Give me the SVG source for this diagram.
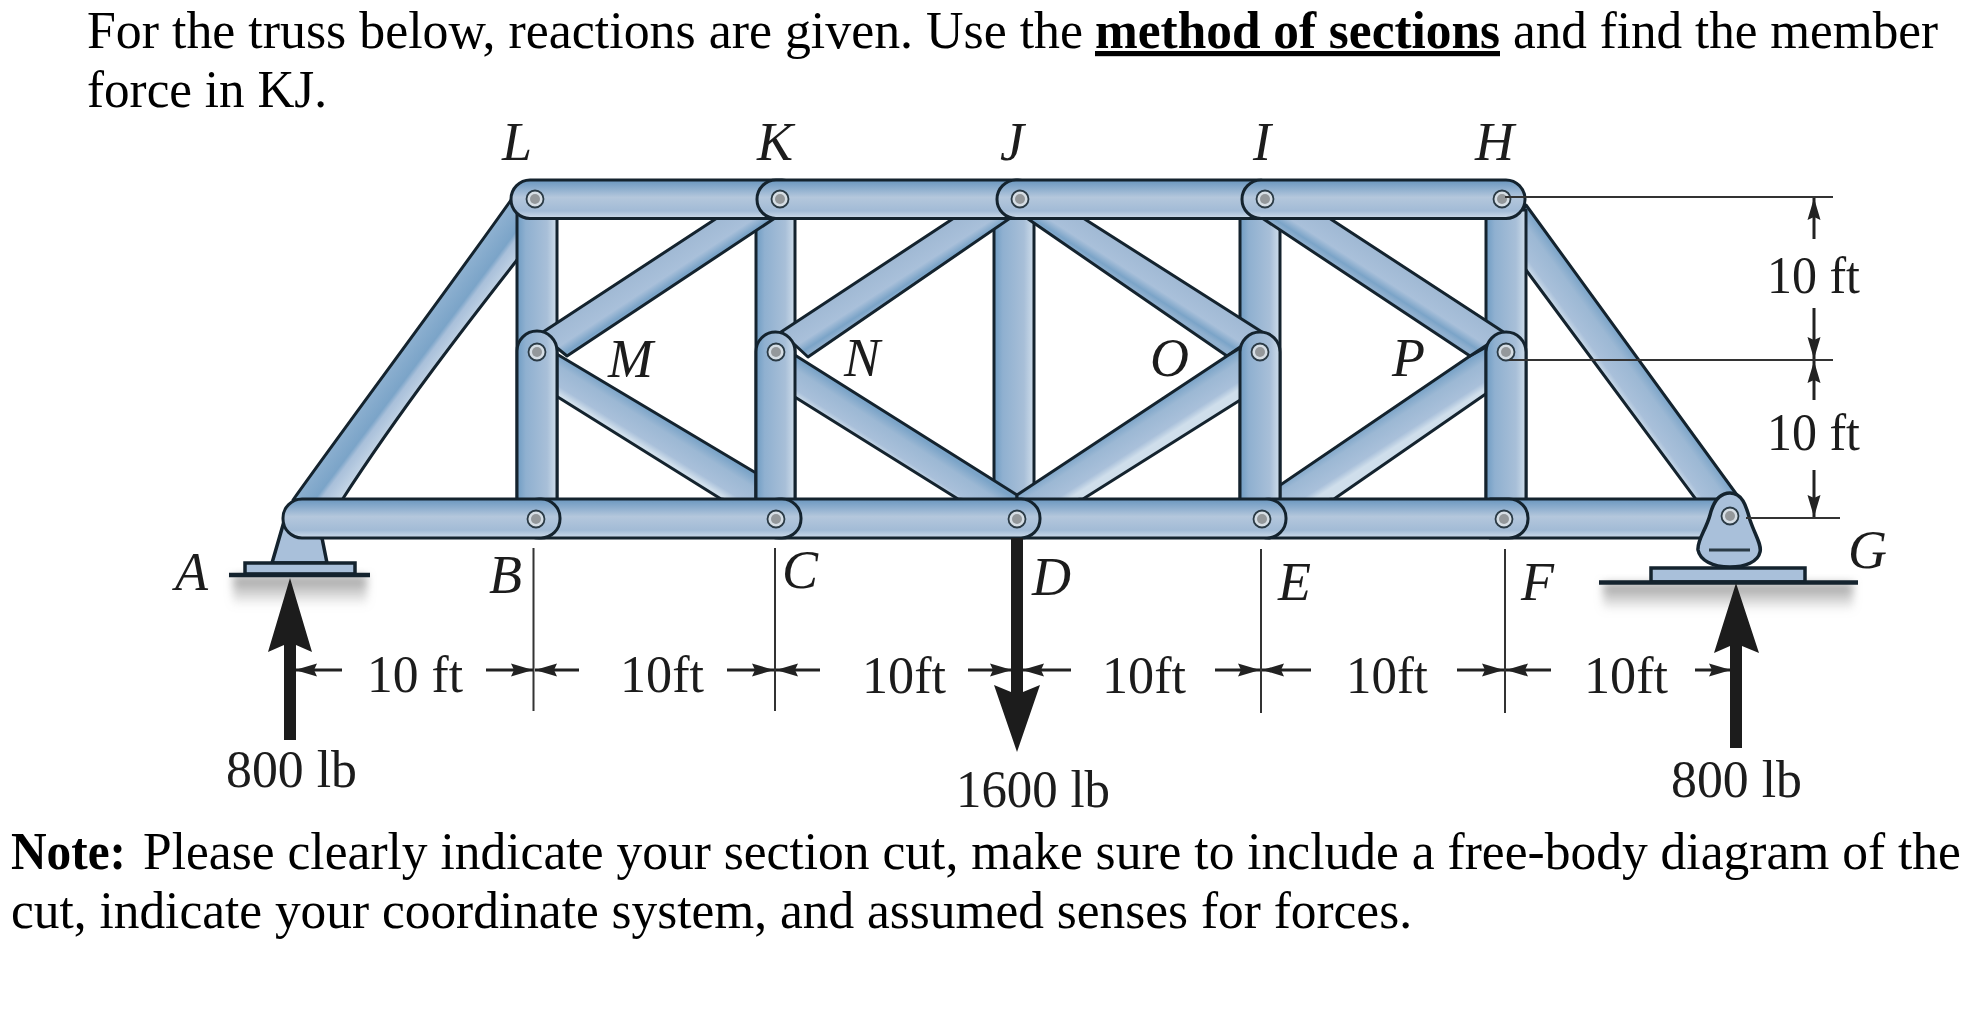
<svg xmlns="http://www.w3.org/2000/svg" width="1980" height="1031" viewBox="0 0 1980 1031">
<style>
text{font-family:"Liberation Serif","Times New Roman",serif;fill:#000}
.p{font-size:52px}
.b{font-weight:bold}
.l{font-size:54px;font-style:italic;fill:#1c1c1c}
.d{font-size:52px;fill:#1c1c1c}
.m{stroke:#14232e;stroke-width:3;stroke-linejoin:round}
.h{fill:url(#hg)}
.v{fill:url(#vg)}
.pin{fill:#d5dde4;stroke:#2a3a45;stroke-width:1.8}
.pc{fill:#94989b}
.dim{stroke:#222;stroke-width:3;fill:none}
.arr{marker-end:url(#ah)}
.t{stroke:#333;stroke-width:2;fill:none}
.f{fill:#1c1c1c}
.s{fill:#a9c0da;stroke:#14232e;stroke-width:3.5}
</style>
<defs>
<linearGradient id="hg" x1="0" y1="0" x2="0" y2="1"><stop offset="0" stop-color="#6a97bf"/><stop offset=".18" stop-color="#86a9cb"/><stop offset=".45" stop-color="#b4c7dc"/><stop offset=".8" stop-color="#a2bbd6"/><stop offset="1" stop-color="#cfdcea"/></linearGradient>
<linearGradient id="vg" x1="0" y1="0" x2="1" y2="0"><stop offset="0" stop-color="#6f9cc3"/><stop offset=".22" stop-color="#8fb0d0"/><stop offset=".75" stop-color="#a8bfd8"/><stop offset="1" stop-color="#cfdeeb"/></linearGradient>
<linearGradient id="st"><stop offset="0" stop-color="#7ba4c8"/><stop offset=".3" stop-color="#9cb8d4"/><stop offset=".8" stop-color="#a9c0da"/><stop offset="1" stop-color="#cfdeeb"/></linearGradient>
<linearGradient id="st2"><stop offset="0" stop-color="#a0b9d4"/><stop offset=".6" stop-color="#a9c0da"/><stop offset=".85" stop-color="#7ba4c8"/><stop offset="1" stop-color="#90b0cf"/></linearGradient>
<linearGradient id="st3"><stop offset="0" stop-color="#8db0d0"/><stop offset=".5" stop-color="#7ba4c8"/><stop offset=".62" stop-color="#a9c0da"/><stop offset="1" stop-color="#c4d5e6"/></linearGradient>
<linearGradient id="d1" href="#st3" gradientUnits="userSpaceOnUse" x1="402" y1="350" x2="434" y2="374"/>
<linearGradient id="d2" href="#st2" gradientUnits="userSpaceOnUse" x1="650" y1="262" x2="669" y2="291"/>
<linearGradient id="d3" href="#st" gradientUnits="userSpaceOnUse" x1="660" y1="417" x2="642" y2="446"/>
<linearGradient id="d4" href="#st2" gradientUnits="userSpaceOnUse" x1="880" y1="268" x2="898" y2="296"/>
<linearGradient id="d5" href="#st" gradientUnits="userSpaceOnUse" x1="900" y1="425" x2="882" y2="453"/>
<linearGradient id="d6" href="#st2" gradientUnits="userSpaceOnUse" x1="1165" y1="270" x2="1147" y2="298"/>
<linearGradient id="d7" href="#st" gradientUnits="userSpaceOnUse" x1="1130" y1="420" x2="1148" y2="448"/>
<linearGradient id="d8" href="#st2" gradientUnits="userSpaceOnUse" x1="1400" y1="266" x2="1382" y2="294"/>
<linearGradient id="d9" href="#st" gradientUnits="userSpaceOnUse" x1="1380" y1="417" x2="1398" y2="445"/>
<linearGradient id="d10" href="#st" gradientUnits="userSpaceOnUse" x1="1631" y1="350" x2="1601" y2="372"/>
<linearGradient id="sh" x1="0" y1="0" x2="0" y2="1"><stop offset="0" stop-color="#9c9c9c"/><stop offset="1" stop-color="#9c9c9c" stop-opacity="0"/></linearGradient>
<filter id="bl" x="-10%" y="-30%" width="120%" height="160%"><feGaussianBlur stdDeviation="4"/></filter>
<marker id="ah" markerUnits="userSpaceOnUse" markerWidth="24" markerHeight="16" refX="22" refY="8" orient="auto"><path d="M0 1.5L22 8L0 14.5L3 8Z" fill="#222"/></marker>
<g id="joint"><circle class="pin" r="8.5"/><circle class="pc" r="5"/></g>
</defs>
<rect width="1980" height="1031" fill="#fff"/>

<g id="question-top">
<text class="p" x="87" y="48" textLength="996" lengthAdjust="spacingAndGlyphs">For the truss below, reactions are given. Use the</text>
<text class="p b" x="1095" y="48" textLength="405" lengthAdjust="spacingAndGlyphs" text-decoration="underline">method of sections</text>
<text class="p" x="1513" y="48" textLength="425" lengthAdjust="spacingAndGlyphs">and find the member</text>
<text class="p" x="87" y="107" textLength="240" lengthAdjust="spacingAndGlyphs">force in KJ.</text>
</g>

<g id="shadows">
<rect x="233" y="576" width="134" height="30" fill="url(#sh)" filter="url(#bl)"/>
<rect x="1603" y="583" width="250" height="28" fill="url(#sh)" filter="url(#bl)"/>
</g>

<g id="support-A">
<path class="s" d="M283 525L322 538L327 563H272Z"/>
<rect class="s" x="245" y="563" width="110" height="11"/>
<path d="M229 575H370" stroke="#14232e" stroke-width="4.5"/>
</g>
<g id="support-G">
<rect class="s" x="1651" y="568" width="154" height="14"/>
<path d="M1599 582.5H1858" stroke="#14232e" stroke-width="4.5"/>
</g>

<g id="members-under">
<path class="m" fill="url(#d1)" d="M511 200C440 300 350 420 293 500L342 500C400 410 470 320 517 260L530 230Z"/>
<path class="m" fill="url(#d10)" d="M1526 205L1737 495L1709 517L1526 270L1510 230Z"/>
<polygon class="m" fill="url(#d3)" points="545,347 756,473 756,505 721,499 545,389"/>
<polygon class="m" fill="url(#d9)" points="1270,492 1470,356 1490,345 1490,391 1334,499 1270,505"/>
</g>
<g id="verticals">
<rect class="m v" x="517" y="210" width="40" height="300"/>
<rect class="m v" x="756" y="210" width="39" height="300"/>
<rect class="m v" x="994" y="210" width="40" height="300"/>
<rect class="m v" x="1240" y="210" width="40" height="300"/>
<rect class="m v" x="1486" y="210" width="40" height="300"/>
</g>
<g id="diagonals">
<polygon class="m" fill="url(#d2)" points="540,334 717,218 787,210 567,356"/>
<polygon class="m" fill="url(#d4)" points="781,332 954,218 1022,210 808,357"/>
<polygon class="m" fill="url(#d6)" points="1015,210 1083,218 1262,332 1227,356"/>
<polygon class="m" fill="url(#d5)" points="790,352 1017,495 1017,505 958,499 790,394"/>
<polygon class="m" fill="url(#d7)" points="1017,495 1227,356 1245,345 1245,397 1083,499 1017,505"/>
<polygon class="m" fill="url(#d8)" points="1250,210 1329,218 1505,333 1470,356"/>
</g>
<g id="capsules">
<rect class="m v" x="517" y="331" width="40" height="190" rx="20"/>
<rect class="m v" x="756" y="332" width="39" height="190" rx="19.5"/>
<rect class="m v" x="1240" y="332" width="40" height="190" rx="20"/>
<rect class="m v" x="1486" y="332" width="40" height="190" rx="20"/>
</g>
<g id="top-chord">
<rect class="m h" x="511" y="180" width="290" height="38.5" rx="19"/>
<rect class="m h" x="757" y="180" width="280" height="38.5" rx="19"/>
<rect class="m h" x="997" y="180" width="280" height="38.5" rx="19"/>
<rect class="m h" x="1242" y="180" width="283" height="38.5" rx="19"/>
</g>
<g id="bottom-chord">
<rect class="m h" x="1490" y="499" width="230" height="39"/>
<rect class="m h" x="1250" y="499" width="278" height="39" rx="19"/>
<rect class="m h" x="1000" y="499" width="286" height="39" rx="19"/>
<rect class="m h" x="760" y="499" width="280" height="39" rx="19"/>
<rect class="m h" x="520" y="499" width="281" height="39" rx="19"/>
<rect class="m h" x="283" y="499" width="277" height="39" rx="19"/>
</g>
<g id="joint-G">
<path class="s" d="M1730 493C1742 493 1746 505 1750 520C1755 535 1762 545 1760 552C1758 562 1745 567 1730 567C1712 567 1700 560 1698 550C1697 540 1706 530 1710 515C1713 503 1718 493 1730 493Z"/>
<path d="M1709 550H1750" stroke="#2a3a45" stroke-width="3"/>
</g>
<g id="pins">
<use href="#joint" x="535" y="199"/><use href="#joint" x="780" y="199"/><use href="#joint" x="1020" y="199"/><use href="#joint" x="1265" y="199"/><use href="#joint" x="1502" y="199"/>
<use href="#joint" x="537" y="352"/><use href="#joint" x="776" y="352"/><use href="#joint" x="1260" y="352"/><use href="#joint" x="1506" y="352"/>
<use href="#joint" x="536" y="519"/><use href="#joint" x="776" y="519"/><use href="#joint" x="1017" y="519"/><use href="#joint" x="1262" y="519"/><use href="#joint" x="1504" y="519"/><use href="#joint" x="1730" y="516"/>
</g>

<g id="connectors">
<path class="t" d="M1505 197H1833M1509 360H1833M1746 518H1840"/>
<path class="t" d="M533.5 548V711M775 548V711M1261 549V713M1505 549V713"/>
<path class="dim arr" d="M1814 239V198"/><path class="dim arr" d="M1814 308V359"/>
<path class="dim arr" d="M1814 400V361"/><path class="dim arr" d="M1814 470V517"/>
<path class="dim arr" d="M342 670H295"/><path class="dim arr" d="M486 670H533"/>
<path class="dim arr" d="M579 670H535"/><path class="dim arr" d="M727 670H774"/>
<path class="dim arr" d="M820 670H776"/><path class="dim arr" d="M968 670H1012"/>
<path class="dim arr" d="M1071 670H1022"/><path class="dim arr" d="M1215 670H1260"/>
<path class="dim arr" d="M1311 670H1262"/><path class="dim arr" d="M1457 670H1504"/>
<path class="dim arr" d="M1551 670H1506"/><path class="dim arr" d="M1695 670H1731"/>
<path class="f" d="M284 740V645L268 652L290 578L312 652L296 645V740Z"/>
<path class="f" d="M1011 538V692L994 685L1017 752L1040 685L1023 692V538Z"/>
<path class="f" d="M1730 748V646L1714 653L1736 583L1759 653L1742 646V748Z"/>
</g>

<g id="labels">
<text class="l" x="502" y="160">L</text><text class="l" x="757" y="160">K</text><text class="l" x="1000" y="160">J</text><text class="l" x="1253" y="160">I</text><text class="l" x="1475" y="160">H</text>
<text class="l" x="608" y="377">M</text><text class="l" x="844" y="376">N</text><text class="l" x="1150" y="376">O</text><text class="l" x="1392" y="376">P</text>
<text class="l" x="175" y="590">A</text><text class="l" x="489" y="593">B</text><text class="l" x="782" y="588">C</text><text class="l" x="1032" y="595">D</text><text class="l" x="1278" y="600">E</text><text class="l" x="1521" y="600">F</text><text class="l" x="1848" y="568">G</text>
<text class="d" x="1767" y="293" textLength="93" lengthAdjust="spacingAndGlyphs">10 ft</text><text class="d" x="1767" y="450" textLength="93" lengthAdjust="spacingAndGlyphs">10 ft</text>
<text class="d" x="367" y="692" textLength="96" lengthAdjust="spacingAndGlyphs">10 ft</text>
<text class="d" x="620" y="692" textLength="84" lengthAdjust="spacingAndGlyphs">10ft</text>
<text class="d" x="862" y="693" textLength="84" lengthAdjust="spacingAndGlyphs">10ft</text>
<text class="d" x="1102" y="693" textLength="84" lengthAdjust="spacingAndGlyphs">10ft</text>
<text class="d" x="1346" y="693" textLength="82" lengthAdjust="spacingAndGlyphs">10ft</text>
<text class="d" x="1584" y="693" textLength="84" lengthAdjust="spacingAndGlyphs">10ft</text>
<text class="d" x="226" y="787" textLength="131" lengthAdjust="spacingAndGlyphs">800 lb</text>
<text class="d" x="956" y="807" textLength="154" lengthAdjust="spacingAndGlyphs">1600 lb</text>
<text class="d" x="1671" y="797" textLength="131" lengthAdjust="spacingAndGlyphs">800 lb</text>
</g>

<g id="note">
<text class="p b" x="11" y="869" textLength="115" lengthAdjust="spacingAndGlyphs">Note:</text>
<text class="p" x="143" y="869" textLength="1818" lengthAdjust="spacingAndGlyphs">Please clearly indicate your section cut, make sure to include a free-body diagram of the</text>
<text class="p" x="11" y="928" textLength="1401" lengthAdjust="spacingAndGlyphs">cut, indicate your coordinate system, and assumed senses for forces.</text>
</g>
</svg>
